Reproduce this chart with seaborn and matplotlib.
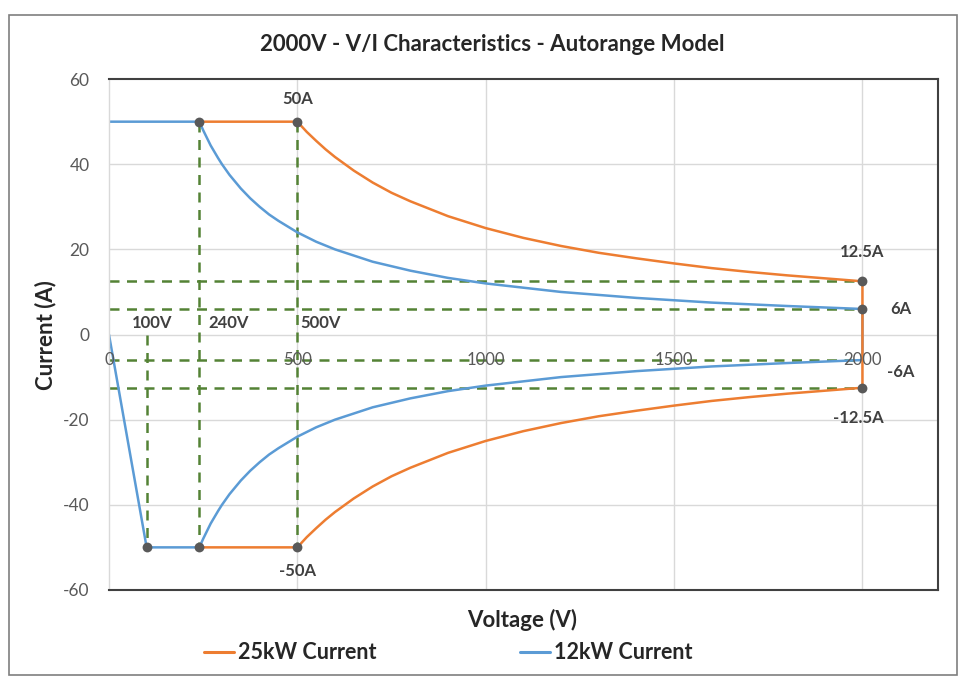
import numpy as np
import pandas as pd
import matplotlib
matplotlib.use('Agg')
import matplotlib.pyplot as plt
import seaborn as sns
from matplotlib.lines import Line2D
from matplotlib.patches import Rectangle

# cores estilo Excel
laranja = '#ED7D31'
azul = '#5B9BD5'
verde = '#548235'
cinza_ponto = '#595959'
cinza_txt = '#595959'
escuro = '#262626'

# ---- dados ----
# 25kW: trecho positivo (V, A)
v25_pos = [240, 500, 525, 550, 575, 600, 650, 700, 750, 800, 900, 1000, 1100, 1200, 1300, 1400, 1500, 1600, 1700, 1800, 1900, 2000]
i25_pos = [50, 50, 47.6, 45.5, 43.5, 41.7, 38.5, 35.7, 33.3, 31.3, 27.8, 25.0, 22.7, 20.8, 19.2, 17.9, 16.7, 15.6, 14.7, 13.9, 13.2, 12.5]
# 25kW: trecho negativo
v25_neg = [2000, 1900, 1800, 1700, 1600, 1500, 1400, 1300, 1200, 1100, 1000, 900, 800, 750, 700, 650, 600, 575, 550, 525, 500, 240]
i25_neg = [-12.5, -13.2, -13.9, -14.7, -15.6, -16.7, -17.9, -19.2, -20.8, -22.7, -25.0, -27.8, -31.3, -33.3, -35.7, -38.5, -41.7, -43.5, -45.5, -47.6, -50, -50]

# 12kW: trecho positivo
v12_pos = [0, 240, 250, 260, 270, 280, 290, 300, 320, 350, 375, 400, 425, 450, 500, 550, 600, 700, 800, 900, 1000, 1200, 1400, 1600, 1800, 2000]
i12_pos = [50, 50, 48.0, 46.2, 44.4, 42.9, 41.4, 40.0, 37.5, 34.3, 32.0, 30.0, 28.2, 26.7, 24.0, 21.8, 20.0, 17.1, 15.0, 13.3, 12.0, 10.0, 8.6, 7.5, 6.7, 6.0]
# 12kW: trecho negativo
v12_neg = [2000, 1800, 1600, 1400, 1200, 1000, 900, 800, 700, 600, 550, 500, 450, 425, 400, 375, 350, 320, 300, 290, 280, 270, 260, 250, 240, 100, 0]
i12_neg = [-6.0, -6.7, -7.5, -8.6, -10.0, -12.0, -13.3, -15.0, -17.1, -20.0, -21.8, -24.0, -26.7, -28.2, -30.0, -32.0, -34.3, -37.5, -40.0, -41.4, -42.9, -44.4, -46.2, -48.0, -50, -50, 0]

# pontos marcados
pontos_v = [240, 500, 2000, 2000, 2000, 100, 240, 500]
pontos_i = [50, 50, 12.5, 6, -12.5, -50, -50, -50]

# linhas de referência tracejadas
ref_h = [12.5, 6, -6, -12.5]
ref_v = [100, 240, 500]
ref_v_ini = [0, 50, 50]

x_ticks = [0, 500, 1000, 1500, 2000]
y_ticks = [-60, -40, -20, 0, 20, 40, 60]

rot_corrente = ['50A', '12.5A', '6A', '-6A', '-12.5A', '-50A']
rot_corrente_pos = [(500, 55.3), (2000, 19.3), (2075, 6), (2066, -8.7), (1990, -19.5), (500, -55.5)]
rot_tensao = ['100V', '240V', '500V']
rot_tensao_pos = [(114, 2.8), (263, 2.8), (507, 2.8)]

sns.set_style("white")
plt.rcParams['font.family'] = ['Lato', 'DejaVu Sans']

fig = plt.figure(figsize=(9.66, 6.82), dpi=100)
ax = fig.add_axes([0.1128, 0.135, 0.858, 0.749])

# grade
for v in [500, 1000, 1500, 2000]:
    ax.axvline(v, color='#D9D9D9', lw=1, zorder=0)
for y in [-40, -20, 0, 20, 40]:
    ax.axhline(y, color='#D9D9D9', lw=1, zorder=0)

# linhas de referência
for y in ref_h:
    ax.plot([0, 2000], [y, y], ls=(0, (4, 3)), color=verde, lw=1.8, zorder=1)
for v, y0 in zip(ref_v, ref_v_ini):
    ax.plot([v, v], [y0, -50], ls=(0, (4, 3)), color=verde, lw=1.8, zorder=1)

# curvas
d12 = pd.DataFrame({'V': v12_pos + v12_neg, 'I': i12_pos + i12_neg})
d25 = pd.DataFrame({'V': v25_pos + v25_neg, 'I': i25_pos + i25_neg})
sns.lineplot(data=d12, x='V', y='I', sort=False, estimator=None, color=azul, lw=1.8, ax=ax, zorder=2)
sns.lineplot(data=d25, x='V', y='I', sort=False, estimator=None, color=laranja, lw=1.8, ax=ax, zorder=3)

ax.scatter(pontos_v, pontos_i, s=50, color=cinza_ponto, zorder=4, linewidths=0)

for txt, (x, y) in zip(rot_corrente, rot_corrente_pos):
    ax.text(x, y, txt, ha='center' if txt not in ('6A', '-6A') else 'left', va='center',
            fontsize=12, fontweight='bold', color='#404040')
for txt, (x, y) in zip(rot_tensao, rot_tensao_pos):
    ax.text(x, y, txt, ha='center' if txt == '100V' else 'left', va='center',
            fontsize=12, fontweight='bold', color='#404040')

ax.set_xlim(0, 2200)
ax.set_ylim(-60, 60)
ax.set_yticks(y_ticks)
ax.set_yticklabels([str(t) for t in y_ticks], fontsize=12.5, color=cinza_txt)
ax.set_xticks([])
for t in x_ticks:
    ax.text(t, -6, str(t), ha='center', va='center', fontsize=12, color=cinza_txt)
ax.tick_params(axis='y', length=0, pad=14)

for s in ['top', 'right', 'bottom']:
    ax.spines[s].set_color('#404040')
    ax.spines[s].set_linewidth(1.5)
ax.spines['left'].set_color('#D9D9D9')
ax.spines['left'].set_linewidth(1)

ax.set_ylabel('')
ax.set_xlabel('')
fig.text(0.047, 0.509, 'Current (A)', rotation=90, ha='center', va='center', fontsize=16,
         fontweight='bold', color=escuro)
fig.text(0.540, 0.091, 'Voltage (V)', ha='center', va='center', fontsize=16, fontweight='bold', color=escuro)
fig.text(0.510, 0.935, '2000V - V/I Characteristics - Autorange Model', ha='center', va='center',
         fontsize=16, fontweight='bold', color=escuro)

alcas = [Line2D([], [], color=laranja, lw=2.2), Line2D([], [], color=azul, lw=2.2)]
fig.legend(alcas, ['25kW Current', '12kW Current'], loc='center', bbox_to_anchor=(0.464, 0.043),
           ncol=2, frameon=False, prop={'size': 15.5, 'weight': 'bold'}, handlelength=1.4,
           handletextpad=0.15, columnspacing=6.7, labelcolor=escuro)

# moldura externa
fig.patches.append(Rectangle((0.009, 0.01), 0.982, 0.968, transform=fig.transFigure,
                             fill=False, edgecolor='#7F7F7F', lw=1.2))

plt.savefig('out.png', dpi=100, facecolor='white')
